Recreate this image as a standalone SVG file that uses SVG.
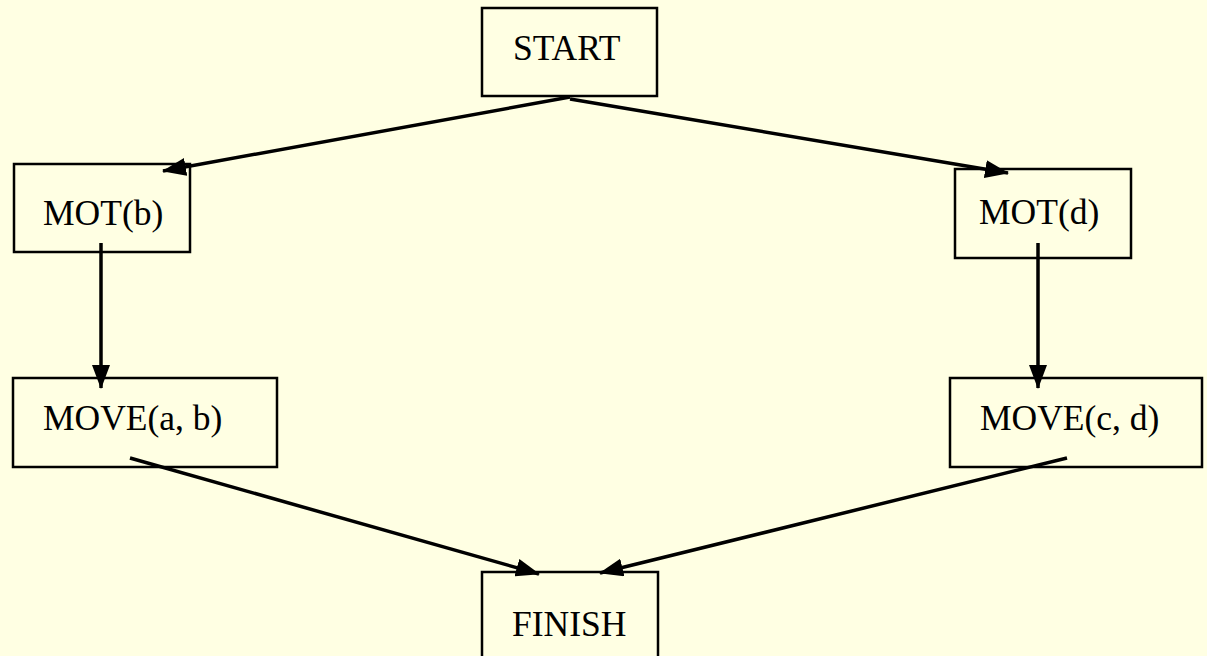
<svg xmlns="http://www.w3.org/2000/svg" width="1207" height="656" viewBox="0 0 1207 656">
<style>
.box{fill:#FFFFE3;stroke:#000;stroke-width:2.5}
.lbl{font-family:"Liberation Serif","Times New Roman",serif;font-size:35.5px;fill:#000}
.edge{stroke:#000;stroke-width:3.5;fill:none;marker-end:url(#ah)}
</style>
<defs>
<marker id="ah" markerUnits="userSpaceOnUse" markerWidth="24" markerHeight="18" viewBox="0 0 24 18" refX="23" refY="9" orient="auto">
<path d="M0,0 L24,9 L0,18 Z" fill="#000"/>
</marker>
</defs>
<rect width="1207" height="656" fill="#FFFFE3"/>
<g id="start"><rect class="box" x="482" y="8" width="175" height="88"/><text class="lbl" x="513" y="60">START</text></g>
<g id="motb"><rect class="box" x="14" y="164" width="176" height="88"/><text class="lbl" x="43" y="225">MOT(b)</text></g>
<g id="motd"><rect class="box" x="955" y="169" width="176" height="89"/><text class="lbl" x="979" y="224">MOT(d)</text></g>
<g id="moveab"><rect class="box" x="13" y="378" width="264" height="89"/><text class="lbl" x="43" y="430">MOVE(a, b)</text></g>
<g id="movecd"><rect class="box" x="950" y="378" width="252" height="89"/><text class="lbl" x="980" y="430">MOVE(c, d)</text></g>
<g id="finish"><rect class="box" x="482" y="572" width="176" height="100"/><text class="lbl" x="512" y="636">FINISH</text></g>
<g id="connectors">
<line class="edge" x1="570" y1="97" x2="163" y2="171"/>
<line class="edge" x1="570" y1="99" x2="1008" y2="173"/>
<line class="edge" x1="101" y1="243" x2="101" y2="388"/>
<line class="edge" x1="1038" y1="243" x2="1038" y2="388"/>
<line class="edge" x1="130" y1="458" x2="539" y2="574"/>
<line class="edge" x1="1067" y1="458" x2="600" y2="573"/>
</g>
</svg>
